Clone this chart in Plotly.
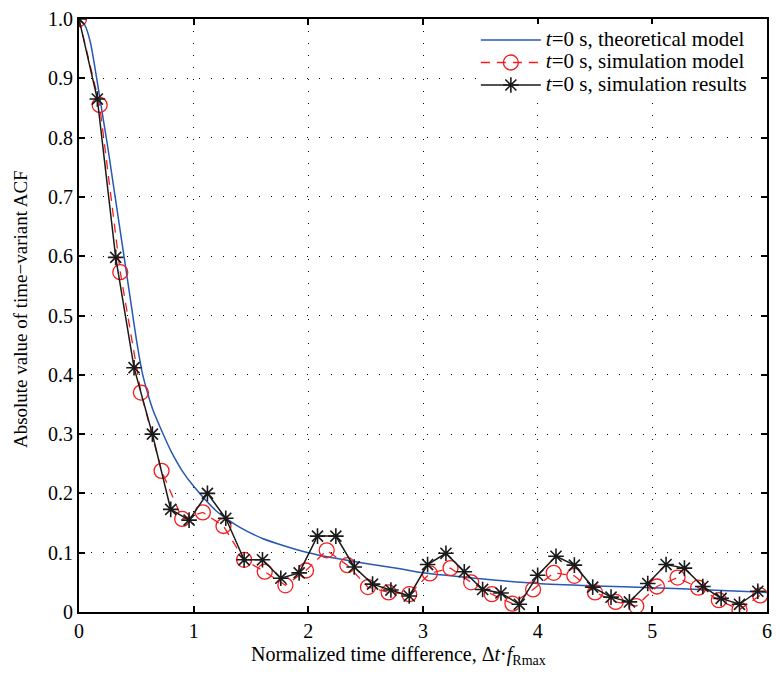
import plotly.graph_objects as go

# Theoretical model (blue solid line)
theo_x = [0, 0.05, 0.1, 0.15, 0.2, 0.25, 0.3, 0.35, 0.4, 0.45, 0.5, 0.55, 0.6, 0.65, 0.7,
          0.75, 0.8, 0.9, 1.0, 1.2, 1.4, 1.6, 1.8, 2.0, 2.2, 2.4, 2.6, 2.8, 3.0, 3.5, 4.0,
          4.5, 5.0, 5.5, 6.0]
theo_y = [1.0, 0.99, 0.96, 0.905, 0.845, 0.785, 0.72, 0.655, 0.59, 0.525, 0.46, 0.405,
          0.368, 0.338, 0.315, 0.293, 0.272, 0.238, 0.212, 0.17, 0.143, 0.124, 0.111, 0.1,
          0.092, 0.085, 0.079, 0.073, 0.066, 0.056, 0.048, 0.044, 0.041, 0.037, 0.033]

# Simulation model (red dashed with open circles), step 0.18
sim_step = 0.18
sim_y = [1.0, 0.855, 0.573, 0.37, 0.238, 0.157, 0.168, 0.145, 0.088, 0.068, 0.045, 0.07,
         0.104, 0.079, 0.042, 0.033, 0.03, 0.065, 0.074, 0.05, 0.03, 0.014, 0.038, 0.066,
         0.061, 0.033, 0.017, 0.01, 0.043, 0.058, 0.041, 0.02, 0.004, 0.028]
sim_x = [round(i * sim_step, 4) for i in range(len(sim_y))]

# Simulation results (black with asterisks), step 0.16
res_step = 0.16
res_y = [1.0, 0.865, 0.598, 0.412, 0.30, 0.173, 0.155, 0.2, 0.158, 0.088, 0.088, 0.057,
         0.066, 0.128, 0.128, 0.076, 0.047, 0.037, 0.027, 0.08, 0.099, 0.068, 0.038, 0.032,
         0.013, 0.062, 0.094, 0.079, 0.042, 0.025, 0.017, 0.048, 0.08, 0.074, 0.043, 0.023,
         0.013, 0.035]
res_x = [round(i * res_step, 4) for i in range(len(res_y))]

y_ticks = [0, 0.1, 0.2, 0.3, 0.4, 0.5, 0.6, 0.7, 0.8, 0.9, 1.0]
y_ticktext = ["0", "0.1", "0.2", "0.3", "0.4", "0.5", "0.6", "0.7", "0.8", "0.9", "1.0"]
x_ticks = [0, 1, 2, 3, 4, 5, 6]

FONT = "Liberation Serif, Times New Roman, serif"


def legend_name(txt):
    return '<span style="font-size:21px">' + txt + '</span>'


fig = go.Figure()
fig.add_trace(go.Scatter(
    x=theo_x, y=theo_y, mode="lines", line=dict(color="#2559b3", width=1.5, shape="spline", smoothing=0.6),
    name=legend_name("<i>t</i>=0 s, theoretical model")))
fig.add_trace(go.Scatter(
    x=sim_x, y=sim_y, mode="lines+markers",
    line=dict(color="#f41c1c", width=1.3, dash="9px,7px"),
    marker=dict(symbol="circle-open", size=15, color="#f41c1c", line=dict(width=1.3)),
    name=legend_name("<i>t</i>=0 s, simulation model")))
fig.add_trace(go.Scatter(
    x=res_x, y=res_y, mode="lines+markers",
    line=dict(color="#1a1a1a", width=1.5),
    marker=dict(symbol="asterisk-open", size=13, color="#1a1a1a", line=dict(width=1.6, color="#1a1a1a")),
    name=legend_name("<i>t</i>=0 s, simulation results")))

axis_common = dict(
    showline=True, linecolor="black", linewidth=2, mirror="ticks",
    ticks="inside", ticklen=6, tickwidth=1.5, tickcolor="black",
    showgrid=True, gridcolor="black", gridwidth=1, griddash="1px,11px",
    zeroline=False, tickfont=dict(family=FONT, size=20, color="black"),
)

fig.update_xaxes(range=[0, 6], tickvals=x_ticks, ticktext=[str(v) for v in x_ticks], **axis_common)
fig.update_yaxes(range=[0, 1.0], tickvals=y_ticks, ticktext=y_ticktext, **axis_common)

fig.add_annotation(text="Normalized time difference, Δ<i>t</i>·<i>f</i><sub>Rmax</sub>",
                   xref="paper", yref="paper", x=0.4646, y=-0.074, xanchor="center", yanchor="middle",
                   showarrow=False, font=dict(family=FONT, size=20, color="black"))
fig.add_annotation(text="Absolute value of time−variant ACF",
                   xref="paper", yref="paper", x=-0.085, y=0.51, xanchor="center", yanchor="middle",
                   textangle=-90, showarrow=False, font=dict(family=FONT, size=19, color="black"))

fig.update_layout(
    width=780, height=675,
    margin=dict(l=79, r=8, t=12, b=63),
    paper_bgcolor="white", plot_bgcolor="white",
    font=dict(family=FONT, size=20, color="black"),
    showlegend=True,
    legend=dict(x=0.978, y=0.992, xanchor="right", yanchor="top",
                bgcolor="white", borderwidth=0, font=dict(family=FONT, size=15, color="black"),
                itemwidth=60, tracegroupgap=0),
)

fig.write_html("out.html")
